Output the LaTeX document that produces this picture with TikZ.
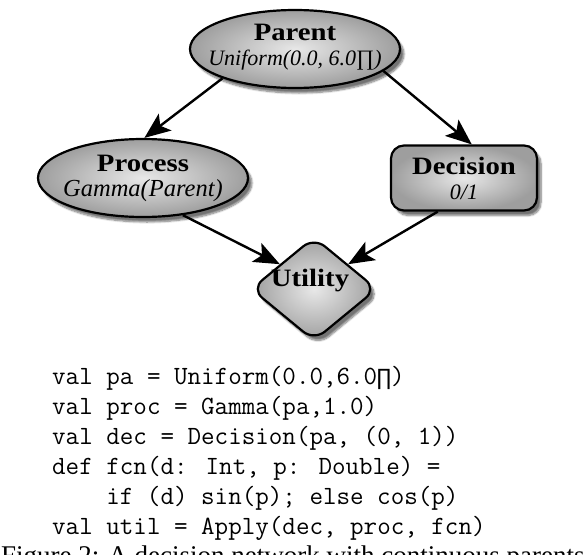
\documentclass[tikz,border=0pt]{standalone}
\usepackage{fontspec}
\setmainfont{Liberation Serif}
\newfontfamily\namefont[FakeStretch=1.15]{Liberation Serif}
\newfontfamily\symmono{Liberation Mono}
\usetikzlibrary{positioning,arrows.meta,shapes.geometric,shadows.blur}

\tikzset{
  netnode/.style={draw=black, line width=2.2pt, inner color=black!9, outer color=black!38,
    blur shadow={shadow xshift=4pt, shadow yshift=-5pt, shadow blur steps=8, shadow opacity=55},
    inner sep=0pt},
  chance/.style={netnode, ellipse, minimum width=210pt, minimum height=78pt},
  decide/.style={netnode, rectangle, rounded corners=13pt, minimum width=146pt, minimum height=65pt},
  utilnode/.style={netnode, diamond, rounded corners=14pt, minimum width=126pt, minimum height=104pt},
  nodelbl/.style={align=center, inner sep=0pt, font=\fontsize{22}{25}\selectfont},
  arr/.style={-{Stealth[length=26pt,width=21pt,inset=6pt]}, line width=2.4pt},
  codeline/.style={anchor=base west, inner sep=0pt, font=\fontsize{26.3}{26}\ttfamily},
}
\newcommand{\nodename}[1]{{\namefont\bfseries\fontsize{25}{25}\selectfont #1}}
\newcommand{\monoprod}{{\symmono\fontsize{23}{23}\selectfont ∏}}

\begin{document}
\begin{tikzpicture}[x=1pt, y=-1pt]
\useasboundingbox (0,0) rectangle (588,554);
\clip (0,0) rectangle (588,554);
% network
\node[chance] (parent) at (295,49) {};
\node[chance] (process) at (143,178) {};
\node[decide] (decision) at (464,178) {};
\node[utilnode] (utility) at (314,289) {};
\node[nodelbl, yshift=2pt] (parent-txt) at (parent) {\nodename{Parent}\\\textit{Uniform(0.0, 6.0∏)}};
\node[nodelbl] (process-txt) at (process) {\nodename{Process}\\{\fontsize{24.5}{25}\selectfont\itshape Gamma(Parent)}};
\node[nodelbl] (decision-txt) at (decision) {\nodename{Decision}\\\textit{0/1}};
\node[nodelbl, xshift=-4pt, yshift=8pt] (utility-txt) at (utility) {\nodename{Utility}};
% edges
\draw[arr] (parent.202) -- (process.88);
\draw[arr] (parent.-14) -- (decision.77);
\draw[arr] (process.-43) -- (utility.144);
\draw[arr] (decision.232) -- (utility.36);
% program text
\foreach \codetxt [count=\i] in {{val pa = Uniform(0.0,6.0\monoprod)}, {val proc = Gamma(pa,1.0)},
    {val dec = Decision(pa, (0, 1))}, {def fcn(d: Int, p: Double) =},
    {\phantom{def}\ if (d) sin(p); else cos(p)}, {val util = Apply(dec, proc, fcn)}}
  \node[codeline] (code-\i) at (52,354+30*\i) {\codetxt};
% caption, cut off by the page edge
\node[anchor=base west, inner sep=0pt, font=\fontsize{27}{27}\selectfont] (caption) at (1,564)
  {Figure 2: A decision network with continuous parents};
\end{tikzpicture}
\end{document}
